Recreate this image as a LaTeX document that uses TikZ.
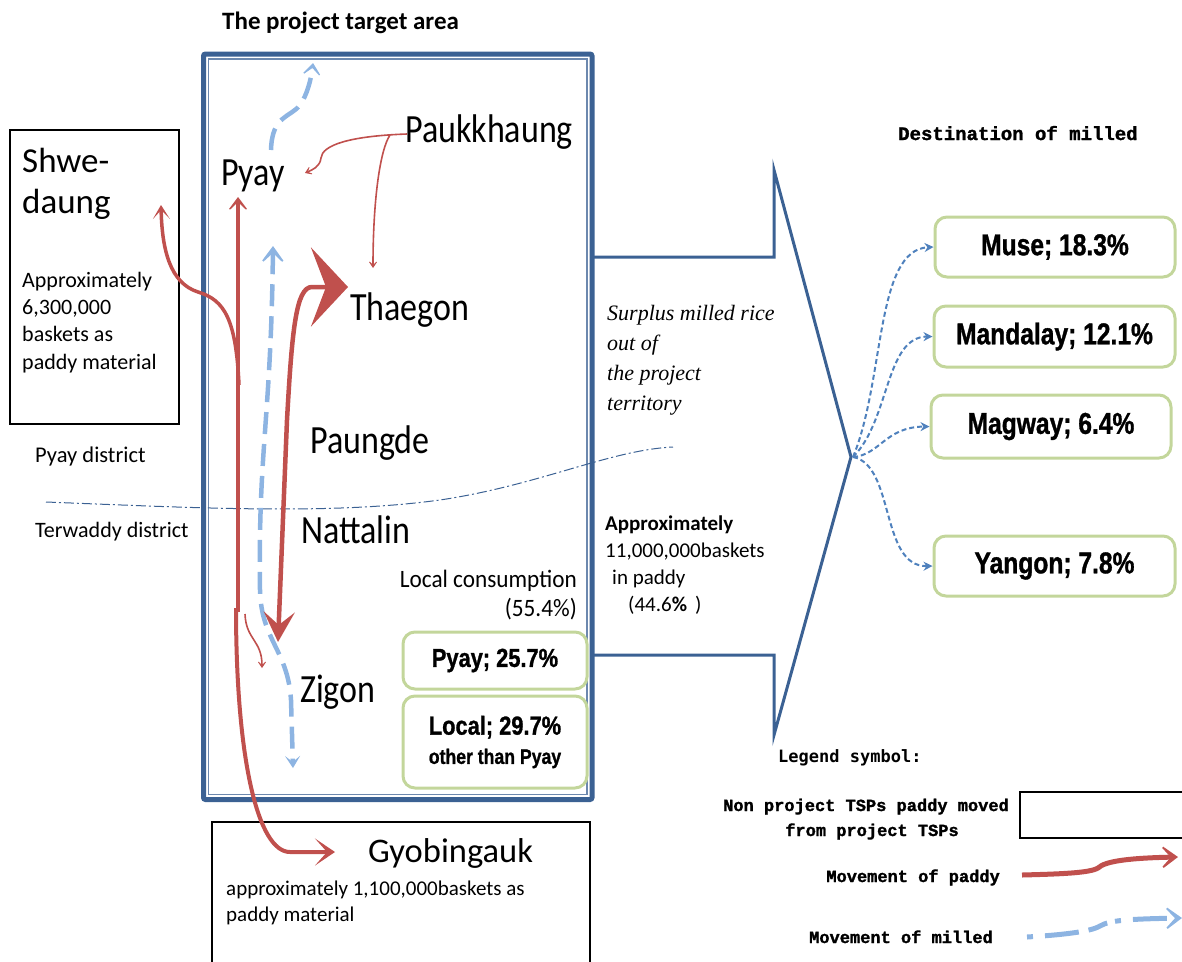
\documentclass[tikz,border=0pt]{standalone}
\usepackage{fontspec}
\usepackage{graphicx}
\setmainfont{Carlito}
\newfontfamily\arialf{Liberation Sans}[BoldFeatures={FakeBold=1.2}]
\newfontfamily\monof{Liberation Mono}[BoldFeatures={FakeBold=1.5}]
\newfontfamily\gothf{DejaVu Sans Mono}
\newfontfamily\seriff{Liberation Serif}
\usetikzlibrary{arrows.meta}
\definecolor{frameblue}{HTML}{3B6193}
\definecolor{paddyred}{HTML}{C0504D}
\definecolor{milledblue}{HTML}{8DB4E2}
\definecolor{destblue}{HTML}{4F81BD}
\definecolor{boxgreen}{HTML}{C3D69B}
\newcommand\fsz[1]{\fontsize{#1}{#1}\selectfont}
\newcommand\narrow[2]{\scalebox{#1}[1]{#2}}
\begin{document}
\begin{tikzpicture}[x=1pt,y=-1pt,
  lbl/.style={inner sep=0pt, anchor=base west},
  lble/.style={inner sep=0pt, anchor=base east},
  town/.style={lbl, font=\fsz{40}},
  paddy/.style={draw=paddyred, line width=4.5pt},
  paddythin/.style={draw=paddyred, line width=1.6pt},
  milled/.style={draw=milledblue, line width=4.5pt, dash pattern=on 22pt off 10pt},
  dest/.style={draw=destblue, line width=2pt, dash pattern=on 5pt off 3pt, -{Stealth[length=9pt,width=9pt]}},
  greenbox/.style={draw=boxgreen, line width=3pt, rounded corners=12pt, inner sep=0pt, font=\arialf\bfseries},
  plainbox/.style={draw=black, line width=1.3pt, inner sep=0pt},
  smalltip/.style={-{Stealth[length=9pt,width=12pt,inset=6pt]}},
]
\useasboundingbox (0,0) rectangle (1182,961);

% project area frame (double border)
\node[draw=frameblue, line width=5pt, rounded corners=2pt, minimum width=388.5pt, minimum height=745.5pt, inner sep=0pt] (area) at (397.75,426.75) {};
\node[draw=frameblue!75, line width=1.2pt, minimum width=378.5pt, minimum height=735.5pt, inner sep=0pt] (areain) at (397.75,426.75) {};
\node[lbl, font=\fsz{25}\bfseries] (title) at (222,29) {The project target area};

% outer boxes
\node[plainbox, minimum width=169pt, minimum height=294pt] (shwebox) at (94.5,277) {};
\node[plainbox, minimum width=378pt, minimum height=158pt] (gyobbox) at (401,901) {};
\node[plainbox, minimum width=172pt, minimum height=46pt] (legbox) at (1106,815) {};

% district boundary
\draw[frameblue, line width=1pt, dash pattern=on 10pt off 3pt on 2pt off 3pt]
  (46,502) .. controls (200,508) and (330,515) .. (440,500) .. controls (540,485) and (610,450) .. (673,447);

% bracket towards destinations
\coordinate (brA) at (593,257);
\coordinate (brB) at (774,257);
\coordinate (brC) at (774,170);
\coordinate (fantip) at (851,457);
\coordinate (brD) at (774,735);
\coordinate (brE) at (774,655);
\coordinate (brF) at (593,655);
\draw[frameblue, line width=3pt, line join=miter] (brA) -- (brB) -- (brC) -- (fantip) -- (brD) -- (brE) -- (brF);

% Shwe-daung texts
\node[lbl, font=\fsz{35}] (shweA) at (22,172) {Shwe-};
\node[lbl, font=\fsz{35}] (shweB) at (22,213) {daung};
\node[lbl, font=\fsz{22}] (shweC) at (22,287) {Approximately};
\node[lbl, font=\fsz{22}] (shweD) at (22,314) {6,300,000};
\node[lbl, font=\fsz{22}] (shweE) at (22,341) {baskets as};
\node[lbl, font=\fsz{22}] (shweF) at (22,369) {paddy material};

\node[lbl, font=\fsz{22.5}] (pyaydist) at (35,462) {Pyay district};
\node[lbl, font=\fsz{22}] (terdist) at (35,537) {Terwaddy district};

% townships
\node[town] (pyay) at (221,185) {\narrow{0.85}{Pyay}};
\node[town] (paukk) at (405,142) {\narrow{0.85}{Paukkhaung}};
\node[town] (thaegon) at (350,320) {\narrow{0.85}{Thaegon}};
\node[town] (paungde) at (310,453) {\narrow{0.85}{Paungde}};
\node[town] (nattalin) at (301,543) {\narrow{0.85}{Nattalin}};
\node[town] (zigon) at (300,702) {\narrow{0.85}{Zigon}};

% local consumption
\node[lble, font=\fsz{25}] (localcons) at (577,587) {\narrow{0.93}{Local consumption}};
\node[lble, font=\fsz{25}] (localpct) at (577,616) {\narrow{0.93}{(55.4\%)}};
\node[greenbox, minimum width=184pt, minimum height=57pt] (pyaybox) at (495,660.5) {\fsz{26}\narrow{0.84}{Pyay; 25.7\%}};
\node[greenbox, minimum width=184pt, minimum height=92pt, align=center] (localbox) at (495,742) {\fsz{26}\narrow{0.84}{Local; 29.7\%}\\[9pt]\fsz{21}\narrow{0.84}{other than Pyay}};

% surplus text
\node[lbl, font=\seriff\itshape\fsz{22}] (surA) at (607,320) {Surplus milled rice};
\node[lbl, font=\seriff\itshape\fsz{22}] (surB) at (607,350) {out of};
\node[lbl, font=\seriff\itshape\fsz{22}] (surC) at (607,380) {the project};
\node[lbl, font=\seriff\itshape\fsz{22}] (surD) at (607,410) {territory};

\node[lbl, font=\fsz{21}\bfseries] (appA) at (605,530) {Approximately};
\node[lbl, font=\fsz{21}] (appB) at (605,557) {11,000,000baskets};
\node[lbl, font=\fsz{21}] (appC) at (612,584) {in paddy};
\node[lbl, font=\fsz{21}] (appD) at (628,611) {(44.6\textbf{\%}\hspace{8pt})};

% destinations
\node[lbl, font=\monof\bfseries\fsz{19}] (desttitle) at (898,140) {Destination of milled};
\node[greenbox, minimum width=240pt, minimum height=60pt] (muse) at (1055,247) {\fsz{30}\narrow{0.82}{Muse; 18.3\%}};
\node[greenbox, minimum width=241pt, minimum height=61pt] (mandalay) at (1054.5,336.5) {\fsz{30}\narrow{0.82}{Mandalay; 12.1\%}};
\node[greenbox, minimum width=240pt, minimum height=63pt] (magway) at (1051,426.5) {\fsz{30}\narrow{0.82}{Magway; 6.4\%}};
\node[greenbox, minimum width=241pt, minimum height=60pt] (yangon) at (1054.5,566) {\fsz{30}\narrow{0.82}{Yangon; 7.8\%}};

\coordinate (fan) at (853,457);
\draw[dest] (fan) .. controls (885,380) and (875,250) .. (muse.west);
\draw[dest] (fan) .. controls (890,420) and (885,337) .. (mandalay.west);
\draw[dest] (fan) .. controls (880,455) and (885,427) .. (magway.west);
\draw[dest] (fan) .. controls (895,465) and (880,567) .. (yangon.west);

% Gyobingauk texts
\node[lbl, font=\fsz{34.5}] (gyob) at (368,862) {Gyobingauk};
\node[lbl, font=\fsz{21}] (gyobA) at (226,895) {approximately 1,100,000baskets as};
\node[lbl, font=\fsz{21}] (gyobB) at (226,921) {paddy material};

% legend
\node[lbl, font=\gothf\bfseries\fsz{17}] (legtitle) at (778,762) {Legend symbol:};
\node[inner sep=0pt, anchor=base, font=\monof\bfseries\fsz{17}] (legA) at (866,811) {Non project TSPs paddy moved};
\node[inner sep=0pt, anchor=base, font=\monof\bfseries\fsz{17}] (legB) at (872,836) {from project TSPs};
\node[lble, font=\monof\bfseries\fsz{17}] (legpaddy) at (1000,882) {Movement of paddy};
\node[lble, font=\monof\bfseries\fsz{17}] (legmilled) at (993,943) {Movement of milled};

% movement of milled rice (blue)
\coordinate (milA) at (273,246);
\coordinate (milB) at (293,768);
\draw[milled, {Stealth[length=22pt,width=32pt,inset=15pt]}-{Stealth[length=12pt,width=15pt,inset=6pt]}]
  (milA) .. controls (271,420) and (258,450) .. (260,590) .. controls (261,640) and (288,650) .. (291,700) -- (milB);
\coordinate (milC) at (271,150);
\coordinate (milD) at (313,63);
\draw[milled, -{Stealth[length=16pt,width=25pt,inset=11pt]}]
  (milC) .. controls (272,115) and (290,118) .. (300,105) .. controls (307,95) and (311,80) .. (milD);

% movement of paddy (red)
\coordinate (pyayfoot) at (238,612);
\coordinate (pyayin) at (238,197);
\draw[paddy, -{Stealth[length=18pt,width=27pt,inset=13pt]}] (pyayfoot) -- (pyayin);
\coordinate (shwefoot) at (239,385);
\coordinate (shwein) at (161,205);
\draw[paddy, line width=3.5pt, -{Stealth[length=14pt,width=17pt,inset=9pt]}]
  (shwefoot) .. controls (236,320) and (225,300) .. (198,292) .. controls (170,283) and (162,250) .. (shwein);
\coordinate (gyobfoot) at (236,608);
\coordinate (gyobin) at (335,852);
\draw[paddy, line width=4pt, -{Stealth[length=20pt,width=27pt,inset=12pt]}]
  (gyobfoot) .. controls (236,760) and (258,852) .. (290,852) -- (gyobin);
\coordinate (zigin) at (278,642);
\coordinate (thaein) at (348,287);
\draw[paddy, {Stealth[length=30pt,width=31pt,inset=13pt]}-{Stealth[length=37pt,width=79pt,inset=15pt]}]
  (zigin) -- (287,420) .. controls (292,330) and (296,287) .. (312,287) -- (thaein);
\coordinate (paukout) at (407,134);
\coordinate (paukfork) at (390,135);
\draw[paddythin, smalltip] (paukout) .. controls (350,136) and (322,145) .. (321,158) .. controls (320,167) and (312,170) .. (305,173);
\draw[paddythin, smalltip] (paukfork) .. controls (380,150) and (373,200) .. (373,268);
\coordinate (smallA) at (245,614);
\coordinate (smallB) at (262,668);
\draw[paddythin, smalltip] (smallA) .. controls (246,640) and (262,640) .. (smallB);

% legend arrows
\coordinate (lpA) at (1022,875);
\coordinate (lpB) at (1178,857);
\draw[paddy, line width=5pt, -{Stealth[length=22pt,width=32pt,inset=15pt]}]
  (lpA) .. controls (1060,874) and (1090,873) .. (1098,868) .. controls (1105,861) and (1130,858) .. (lpB);
\coordinate (lmA) at (1027,937);
\coordinate (lmB) at (1182,918);
\draw[milled, line width=5pt, dash pattern=on 6pt off 12pt on 34pt off 10pt on 20pt off 8pt, -{Stealth[length=22pt,width=32pt,inset=15pt]}]
  (lmA) .. controls (1060,935) and (1090,932) .. (1100,926) .. controls (1110,920) and (1130,919) .. (lmB);
\end{tikzpicture}
\end{document}
